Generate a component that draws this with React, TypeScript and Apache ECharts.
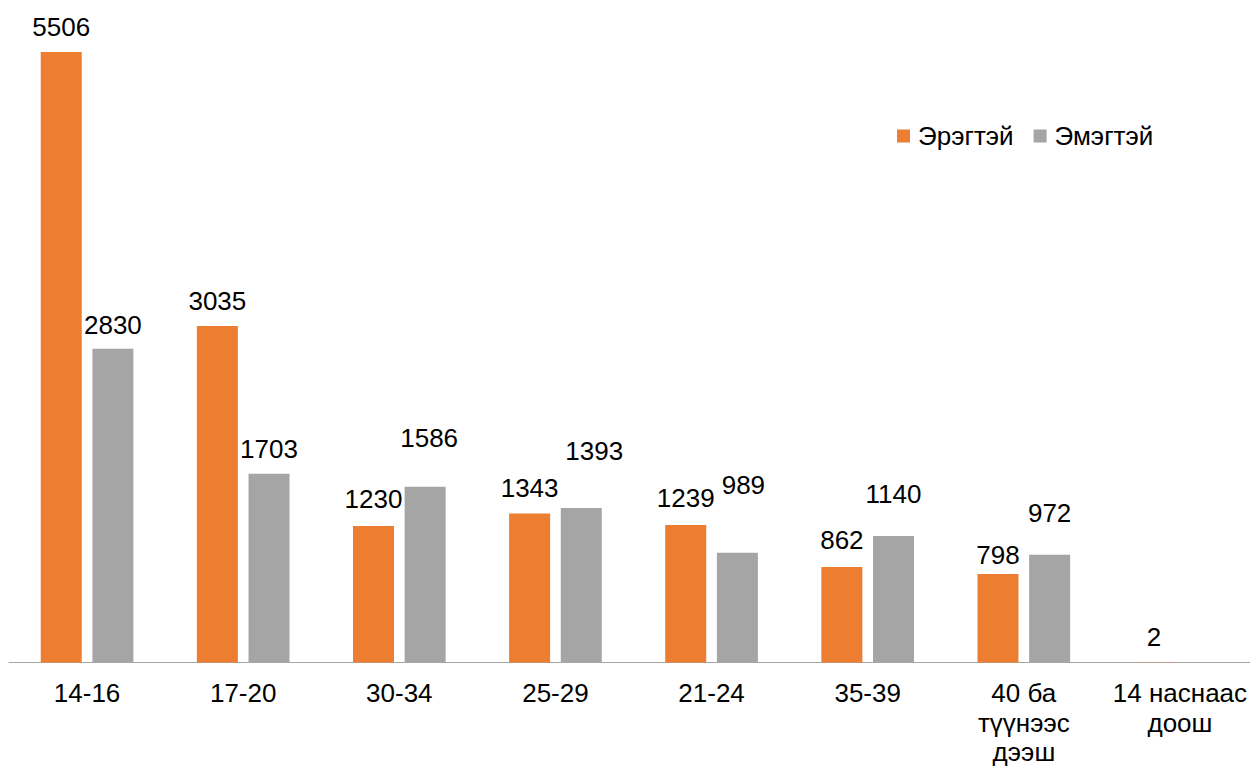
import React, { useEffect, useRef } from "react";
import * as echarts from "echarts";

const categories = ["14-16", "17-20", "30-34", "25-29", "21-24", "35-39", "40 ба\nтүүнээс\nдээш", "14 наснаас\nдоош"];
const seriesNames = ["Эрэгтэй", "Эмэгтэй"];
const maleValues = [5506, 3035, 1230, 1343, 1239, 862, 798, 2];
const femaleValues: (number | null)[] = [2830, 1703, 1586, 1393, 989, 1140, 972, null];

// label nudges (dx, dy) to mirror the reference's hand-placed data labels
const maleLabelShift = [[0, 0], [0, 0], [0, -2], [0, -1], [0, -2], [0, -2], [0, 6], [0, 0]];
const femaleLabelShift = [[0, 1], [0, 0], [4, -24], [13, -32], [6, -43], [0, -17], [0, -17], [0, 0]];

const FONT = "'Liberation Sans', Arial, sans-serif";

export default function App() {
  const ref = useRef<HTMLDivElement>(null);
  useEffect(() => {
    const chart = echarts.init(ref.current!, undefined, { renderer: "svg" });
    const mkData = (vals: (number | null)[], shifts: number[][]) =>
      vals.map((v, i) => ({ value: v, label: { offset: shifts[i] } }));
    const labelCommon = {
      show: true,
      position: "top",
      distance: 12,
      fontSize: 26,
      color: "#000",
      fontFamily: FONT,
    };
    chart.setOption({
      animation: false,
      backgroundColor: "#fff",
      textStyle: { fontFamily: FONT },
      grid: {
        left: 9,
        top: 0,
        width: 1249,
        height: 662.5,
        containLabel: false,
        outerBoundsMode: "none",
      },
      legend: {
        data: seriesNames,
        left: 892,
        top: 118,
        icon: "rect",
        itemWidth: 13,
        itemHeight: 13,
        itemGap: 20,
        textStyle: { fontSize: 26, color: "#000", fontFamily: FONT, padding: [0, 0, 0, 3] },
      },
      xAxis: {
        type: "category",
        data: categories,
        axisLine: { lineStyle: { color: "#A6A6A6", width: 1 } },
        axisTick: { show: false },
        axisLabel: {
          fontSize: 26,
          color: "#000",
          fontFamily: FONT,
          margin: 16,
          lineHeight: 29.5,
          interval: 0,
        },
      },
      yAxis: {
        type: "value",
        min: 0,
        max: 5975,
        show: false,
        splitLine: { show: false },
      },
      series: [
        {
          name: seriesNames[0],
          type: "bar",
          barWidth: 41,
          barGap: "26%",
          itemStyle: { color: "#ED7D31" },
          label: labelCommon,
          data: mkData(maleValues, maleLabelShift),
        },
        {
          name: seriesNames[1],
          type: "bar",
          barWidth: 41,
          barGap: "26%",
          itemStyle: { color: "#A5A5A5" },
          label: labelCommon,
          data: mkData(femaleValues, femaleLabelShift),
        },
      ],
    });
    return () => chart.dispose();
  }, []);
  return (
    <div
      ref={ref}
      style={{ position: "fixed", left: 0, top: 0, width: 1250, height: 769, overflow: "hidden" }}
    />
  );
}
